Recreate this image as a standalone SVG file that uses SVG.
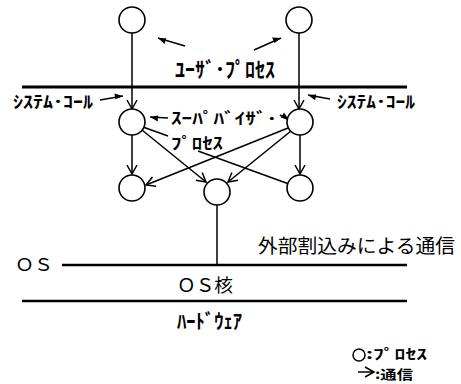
<svg xmlns="http://www.w3.org/2000/svg" width="461" height="384" viewBox="0 0 461 384">
<style>
.node{fill:#fff;stroke:#000;stroke-width:1.6}
.conn{stroke:#000;stroke-width:1.5;fill:none}
.bar{stroke:#000;fill:none}
.kana{font-family:"Noto Sans CJK JP","Noto Sans",sans-serif;font-weight:bold;fill:#000}
.jp{font-family:"Noto Sans CJK JP","Noto Sans",sans-serif;fill:#000}
</style>
<defs>
<marker id="arr" markerUnits="userSpaceOnUse" markerWidth="14" markerHeight="14" viewBox="-10 -7 12 14" refX="0" refY="0" orient="auto">
<path d="M-9,-5 L0,0 L-9,5" fill="none" stroke="#000" stroke-width="1.5"/>
</marker>
<marker id="head" markerUnits="userSpaceOnUse" markerWidth="12" markerHeight="12" viewBox="-10 -6 12 12" refX="0" refY="0" orient="auto">
<path d="M-8,-4 L0,0 L-8,2 Z" fill="#000"/>
</marker>
</defs>

<g id="layers">
<line class="bar" x1="22" y1="87" x2="407" y2="87" stroke-width="3"/>
<line class="bar" x1="62" y1="265" x2="407" y2="265" stroke-width="2.5"/>
<line class="bar" x1="22" y1="301" x2="407" y2="301" stroke-width="2.5"/>
</g>

<g id="connectors">
<line class="conn" x1="132" y1="33" x2="132" y2="109" marker-end="url(#arr)"/>
<line class="conn" x1="299" y1="33" x2="299" y2="109" marker-end="url(#arr)"/>
<line class="conn" x1="132" y1="135" x2="132" y2="174" marker-end="url(#arr)"/>
<line class="conn" x1="300" y1="135" x2="300" y2="174" marker-end="url(#arr)"/>
<line class="conn" x1="142" y1="130" x2="206" y2="182" marker-end="url(#arr)"/>
<line class="conn" x1="291" y1="131" x2="228" y2="182" marker-end="url(#arr)"/>
<line class="conn" x1="288" y1="128" x2="146" y2="185" marker-end="url(#arr)"/>
<line class="conn" x1="143" y1="127" x2="168" y2="136"/>
<line class="conn" x1="198" y1="151" x2="289" y2="184"/>
<line class="conn" x1="217" y1="205" x2="217" y2="265"/>
</g>

<g id="pointers">
<line class="conn" x1="185" y1="46" x2="158" y2="38" marker-end="url(#head)"/>
<line class="conn" x1="254" y1="50" x2="281" y2="38" marker-end="url(#head)"/>
<line class="conn" x1="100" y1="100" x2="123" y2="96" marker-end="url(#head)"/>
<line class="conn" x1="330" y1="99" x2="308" y2="95" marker-end="url(#head)"/>
<line class="conn" x1="168" y1="118" x2="150" y2="117" marker-end="url(#head)"/>
<line class="conn" x1="280" y1="115" x2="289" y2="120" marker-end="url(#head)"/>
</g>

<g id="user-left"><circle class="node" cx="132" cy="20" r="13"/></g>
<g id="user-right"><circle class="node" cx="299" cy="20" r="13"/></g>
<g id="sup-left"><circle class="node" cx="132" cy="122" r="13"/></g>
<g id="sup-right"><circle class="node" cx="300" cy="122" r="13"/></g>
<g id="proc-left"><circle class="node" cx="132" cy="188" r="13"/></g>
<g id="proc-center"><circle class="node" cx="217" cy="192" r="13"/></g>
<g id="proc-right"><circle class="node" cx="300" cy="188" r="13"/></g>

<g id="labels">
<text class="kana" x="175" y="77" font-size="21" textLength="100" lengthAdjust="spacingAndGlyphs">ﾕｰｻﾞ･ﾌﾟﾛｾｽ</text>
<text class="kana" x="13" y="108" font-size="17" textLength="80" lengthAdjust="spacingAndGlyphs">ｼｽﾃﾑ･ｺｰﾙ</text>
<text class="kana" x="337" y="108" font-size="17" textLength="78" lengthAdjust="spacingAndGlyphs">ｼｽﾃﾑ･ｺｰﾙ</text>
<text class="kana" x="171" y="124" font-size="16" textLength="106" lengthAdjust="spacingAndGlyphs">ｽｰﾊﾟﾊﾞｲｻﾞ･</text>
<text class="kana" x="171" y="149" font-size="16" textLength="52" lengthAdjust="spacingAndGlyphs">ﾌﾟﾛｾｽ</text>
<text class="jp" x="258" y="253" font-size="19" textLength="197" lengthAdjust="spacingAndGlyphs">外部割込みによる通信</text>
<text class="jp" x="15" y="271" font-size="17" textLength="38" lengthAdjust="spacingAndGlyphs">ＯＳ</text>
<text class="jp" x="177" y="292" font-size="18" textLength="56" lengthAdjust="spacingAndGlyphs">ＯＳ核</text>
<text class="kana" x="177" y="329" font-size="20" textLength="65" lengthAdjust="spacingAndGlyphs">ﾊｰﾄﾞｳｪｱ</text>
</g>

<g id="legend">
<circle cx="359" cy="355" r="6" fill="none" stroke="#000" stroke-width="1.5"/>
<text class="kana" x="366" y="359" font-size="14" textLength="61" lengthAdjust="spacingAndGlyphs">:ﾌﾟﾛｾｽ</text>
<line class="conn" x1="358" y1="372" x2="374" y2="372" marker-end="url(#arr)"/>
<text class="jp" x="375" y="379" font-size="13" font-weight="bold" textLength="38" lengthAdjust="spacingAndGlyphs">:通信</text>
</g>
</svg>
